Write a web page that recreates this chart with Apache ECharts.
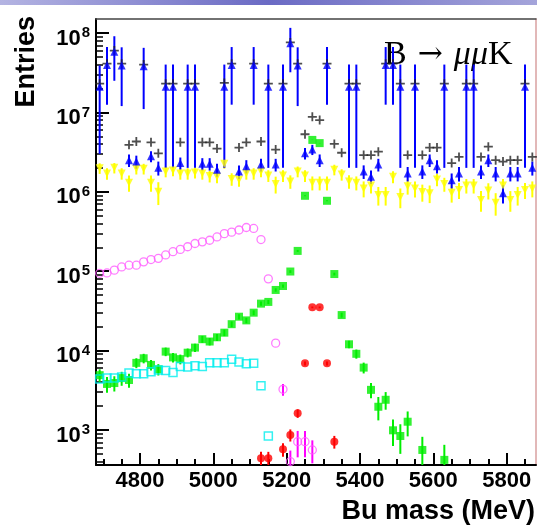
<!DOCTYPE html>
<html><head><meta charset="utf-8">
<script src="https://cdn.jsdelivr.net/npm/echarts@6/dist/echarts.min.js"></script>
<style>html,body{margin:0;padding:0;background:#fff}#c{width:537px;height:529px}</style>
</head><body><div id="c"></div>
<script>
// ---- data (bin centres, MeV) ----
const binCenters = [4690,4710,4730,4750,4770,4790,4810,4830,4850,4870,4890,4910,4930,4950,4970,4990,5010,5030,5050,5070,5090,5110,5130,5150,5170,5190,5210,5230,5250,5270,5290,5310,5330,5350,5370,5390,5410,5430,5450,5470,5490,5510,5530,5550,5570,5590,5610,5630,5650,5670,5690,5710,5730,5750,5770,5790,5810,5830,5850,5870];
const xTickLabels = [4800,5000,5200,5400,5600,5800];
const yTickLabels = [1e3,1e4,1e5,1e6,1e7,1e8];

const blueValues = [2.1e7,3.95e7,5.8e7,3.9e7,2.5e6,2.4e6,3.8e7,2.8e6,2.0e6,2.1e7, 2.1e7,2.3e6,2.1e7,2.1e7,2.25e6,2.25e6,1.9e6,2.1e7,3.95e7,1.8e6, 2.1e6,3.95e7,2.2e6,2.1e7,2.2e6,2.1e7,7.4e7,3.9e7,3.05e6,3.4e6, 2.5e6,3.95e7,null,null,2.1e7,2.1e7,1.8e6,1.55e6,2.2e6,3.95e7, 3.95e7,2.1e7,1.7e6,2.1e7,1.8e6,2.5e6,2.1e6,2.1e7,1.4e6,1.7e6, 2.1e7,2.1e7,1.8e6,2.5e6,1.7e6,9.6e5,1.7e6,1.7e6,2.1e7,2.0e6];
const blueErrors = [1.8e7,2.7e7,3.3e7,2.7e7,4.5e5,4.5e5,2.7e7,4.5e5,4e5,1.9e7, 1.9e7,4e5,1.9e7,1.9e7,4e5,4e5,3.5e5,1.9e7,2.7e7,3.5e5, 4e5,2.7e7,4e5,1.9e7,4e5,1.9e7,4.2e7,2.7e7,5e5,5e5, 4.5e5,2.7e7,null,null,1.9e7,1.9e7,3.5e5,3e5,4e5,2.7e7, 2.7e7,1.9e7,3.5e5,1.9e7,3.5e5,4.5e5,4e5,1.9e7,3e5,3.5e5, 1.9e7,1.9e7,3.5e5,4.5e5,3.5e5,2.5e5,3.5e5,3.5e5,1.9e7,4e5];

const blackValues = [2.3e7,4.1e7,6.0e7,4.1e7,3.9e6,4.3e6,4.0e7,4.2e6,3.05e6,2.3e7, 2.3e7,4.2e6,2.3e7,2.3e7,4.2e6,4.2e6,3.5e6,2.35e7,4.1e7,3.6e6, 4.2e6,4.1e7,4.3e6,2.3e7,3.4e6,2.3e7,7.6e7,4.1e7,5.3e6,8.8e6, 8.0e6,4.1e7,4.0e6,3.1e6,2.3e7,2.3e7,2.9e6,2.9e6,3.2e6,4.1e7, 4.1e7,2.3e7,2.9e6,2.3e7,2.9e6,3.6e6,3.6e6,2.3e7,2.3e6,2.75e6, 2.3e7,2.3e7,2.75e6,3.7e6,2.5e6,2.4e6,2.5e6,2.5e6,2.3e7,2.75e6];

const yellowValues = [1.98e6,1.7e6,2.0e6,1.7e6,1.3e6,1.95e6,1.95e6,1.3e6,1.0e6,1.8e6, 1.85e6,1.7e6,1.7e6,1.75e6,1.7e6,1.58e6,1.55e6,2.25e6,1.45e6,1.42e6, 1.7e6,1.7e6,1.8e6,1.6e6,1.25e6,1.6e6,1.35e6,1.8e6,1.6e6,1.3e6, 1.3e6,1.3e6,1.9e6,1.65e6,1.35e6,1.3e6,1.1e6,1.2e6,9.1e5,9.1e5, 1.55e6,8.6e5,1.17e6,1.1e6,9.9e5,9.6e5,1.43e6,1.25e6,9.7e5,1.05e6, 1.2e6,1.2e6,7.9e5,1.04e6,7.3e5,1.2e6,7.9e5,9.1e5,1.05e6,1.1e6];
const yellowErrors = [3.0e5,2.8e5,3.0e5,2.8e5,3.0e5,3.0e5,3.0e5,3.0e5,3.2e5,2.8e5, 2.8e5,2.8e5,2.8e5,2.8e5,2.8e5,2.7e5,2.7e5,3.0e5,2.6e5,2.6e5, 2.8e5,2.8e5,2.8e5,2.7e5,3.0e5,2.7e5,2.6e5,2.8e5,2.7e5,2.6e5, 2.6e5,2.6e5,2.9e5,2.7e5,2.6e5,2.6e5,2.5e5,2.5e5,2.4e5,2.4e5, 2.7e5,2.4e5,2.5e5,2.5e5,2.4e5,2.4e5,2.6e5,2.5e5,2.4e5,2.4e5, 2.5e5,2.5e5,2.3e5,2.4e5,2.3e5,2.5e5,2.3e5,2.4e5,2.4e5,2.5e5];

const greenValues = [4.9e3,3.8e3,3.9e3,4.5e3,4.26e3,7.0e3,8.0e3,6.6e3,5.8e3,9.7e3, 8.2e3,7.8e3,9.4e3,1.09e4,1.39e4,1.3e4,1.47e4,1.68e4,2.15e4,2.67e4, 2.4e4,3.0e4,3.9e4,4.1e4,5.8e4,6.5e4,9.9e4,1.8e5,8.9e5,4.5e6, 4.1e6,7.7e5,9.2e4,2.8e4,1.2e4,9.1e3,6.1e3,3.2e3,1.96e3,2.4e3, 990,840,1270,null,560,null,null,420,null,null, null,null,null,null,null,null,null,null,null,null];
const greenErrors = [900,850,850,900,850,1000,1100,1000,950,1200, 1100,1100,1200,1300,1400,1400,1500,1600,1800,2000, 1900,2100,2400,2500,2900,3100,3900,5200,1.2e4,2.6e4, 2.5e4,1.1e4,3700,2000,1300,1200,950,700,640,600, 360,340,440,null,260,null,null,230,null,null, null,null,null,null,null,null,null,null,null,null];

const cyanValues = [4.4e3,4.5e3,4.5e3,4.65e3,5.2e3,5.1e3,5.1e3,5.4e3,5.7e3,5.6e3, 5.3e3,6.3e3,6.2e3,6.45e3,6.3e3,7.0e3,7.0e3,7.0e3,7.8e3,7.2e3, 6.8e3,6.9e3,3.6e3,840];

const magentaValues = [9.4e4,9.5e4,1.03e5,1.13e5,1.19e5,1.19e5,1.31e5,1.4e5,1.45e5,1.6e5, 1.76e5,1.88e5,2.03e5,2.23e5,2.34e5,2.45e5,2.7e5,2.97e5,3.1e5,3.3e5, 3.55e5,3.45e5,2.5e5,8.0e4,1.24e4,3250,400,712,712,560];
const magentaErrors = [null,null,null,null,null,null,null,null,null,null, null,null,null,null,null,null,null,null,null,null, null,null,null,null,null,550,150,260,260,180];

const redValues = [null,null,null,null,null,null,null,null,null,null, null,null,null,null,null,null,null,null,null,null, null,null,440,440,null,571,865,1620,6900,3.5e4, 3.5e4,6900,712];
const redErrors = [null,null,null,null,null,null,null,null,null,null, null,null,null,null,null,null,null,null,null,null, null,null,90,90,null,110,150,200,400,900, 900,400,130];

// ---- helpers ----
const FONT = "'Liberation Sans', Arial, Helvetica, sans-serif";
function pts(vals) {
  const out = [];
  vals.forEach((v, i) => { if (v != null) out.push([binCenters[i], v]); });
  return out;
}
function errPts(vals, errs) {
  const out = [];
  vals.forEach((v, i) => { if (v != null && errs[i] != null) out.push([binCenters[i], v, errs[i]]); });
  return out;
}
function errSeries(vals, errs, color, width) {
  return {
    type: 'custom', data: errPts(vals, errs), clip: true, silent: true,
    renderItem: function (params, api) {
      const x = api.value(0), v = api.value(1), e = api.value(2);
      const lo = Math.max(v - e, 1);
      const p1 = api.coord([x, v + e]);
      const p2 = api.coord([x, lo]);
      return { type: 'line', shape: { x1: p1[0], y1: p1[1], x2: p2[0], y2: p2[1] },
               style: { stroke: color, lineWidth: width } };
    }
  };
}
function scat(vals, symbol, size, itemStyle, extra) {
  return Object.assign({ type: 'scatter', data: pts(vals), symbol: symbol, symbolSize: size,
    itemStyle: itemStyle, clip: true, silent: true }, extra || {});
}

const Y_MIN = 362, Y_MAX = 1.5e8;
const yMinor = [];
for (let e = 2; e <= 8; e++) for (let m = 2; m <= 9; m++) {
  const v = m * Math.pow(10, e);
  if (v > Y_MIN && v < Y_MAX) yMinor.push(v);
}
const xMinor = [];
for (let v = 4700; v <= 5850; v += 50) xMinor.push(v);

const chart = echarts.init(document.getElementById('c'), null, { renderer: 'canvas' });
const option = {
  animation: false,
  backgroundColor: '#ffffff',
  grid: { left: 96, right: 1, top: 19, bottom: 64, show: false, outerBoundsMode: 'none', containLabel: false },
  xAxis: [
    { type: 'value', min: 4680, max: 5880, position: 'bottom',
      axisLine: { show: true, lineStyle: { color: '#000', width: 2 } },
      axisTick: { show: true, inside: true, length: 12, lineStyle: { color: '#000', width: 2 }, customValues: xTickLabels },
      axisLabel: { show: true, customValues: xTickLabels, margin: 5, color: '#000',
        formatter: function (v) { return String(Math.round(v)); },
        fontFamily: FONT, fontWeight: 'bold', fontSize: 22 },
      splitLine: { show: false } },
    { type: 'value', min: 4680, max: 5880, position: 'bottom',
      axisLine: { show: false },
      axisTick: { show: true, inside: true, length: 6, lineStyle: { color: '#000', width: 2 }, customValues: xMinor },
      axisLabel: { show: false }, splitLine: { show: false } },
    { type: 'value', min: 4680, max: 5880, position: 'top',
      axisLine: { show: true, lineStyle: { color: '#444', width: 1.5 } },
      axisTick: { show: false }, axisLabel: { show: false }, splitLine: { show: false } }
  ],
  yAxis: [
    { type: 'log', logBase: 10, min: Y_MIN, max: Y_MAX, position: 'left',
      axisLine: { show: true, lineStyle: { color: '#000', width: 2 } },
      axisTick: { show: true, inside: true, length: 13, lineStyle: { color: '#000', width: 2 }, customValues: yTickLabels },
      axisLabel: { show: true, customValues: yTickLabels, margin: 6, color: '#000',
        padding: [9, 0, 0, 0],
        formatter: function (v) { const e = Math.round(Math.log10(v)); return '{b|10}{s|' + e + '}'; },
        rich: {
          b: { fontFamily: FONT, fontWeight: 'bold', fontSize: 22, color: '#000', lineHeight: 24, verticalAlign: 'bottom' },
          s: { fontFamily: FONT, fontWeight: 'bold', fontSize: 15, color: '#000', lineHeight: 24, verticalAlign: 'top', padding: [0, 0, 12, 1] }
        } },
      splitLine: { show: false } },
    { type: 'log', logBase: 10, min: Y_MIN, max: Y_MAX, position: 'left',
      axisLine: { show: false },
      axisTick: { show: true, inside: true, length: 7, lineStyle: { color: '#000', width: 1.5 }, customValues: yMinor },
      axisLabel: { show: false }, splitLine: { show: false } },
    { type: 'log', logBase: 10, min: Y_MIN, max: Y_MAX, position: 'right',
      axisLine: { show: true, lineStyle: { color: '#d9a0a0', width: 1.5 } },
      axisTick: { show: false }, axisLabel: { show: false }, splitLine: { show: false } }
  ],
  graphic: [
    { type: 'rect', shape: { x: 0, y: 0, width: 537, height: 5 }, silent: true,
      style: { fill: new echarts.graphic.LinearGradient(0, 0, 1, 0, [
        { offset: 0, color: '#b4b4e2' }, { offset: 0.5, color: '#6a6ac4' }, { offset: 1, color: '#a4a4da' }]) } },
    { type: 'text', x: 27, y: 16, rotation: Math.PI / 2, silent: true,
      style: { text: 'Entries', fontFamily: FONT, fontWeight: 'bold', fontSize: 27, fill: '#000',
        align: 'right', verticalAlign: 'middle' } },
    { type: 'text', x: 535, y: 512, silent: true,
      style: { text: 'Bu mass (MeV)', fontFamily: FONT, fontWeight: 'bold', fontSize: 27, fill: '#000',
        align: 'right', verticalAlign: 'middle' } },
    { type: 'text', x: 384, y: 55, silent: true,
      style: { text: '{r|B}{a|→}{i|μμ}{r|K}', align: 'left', verticalAlign: 'middle',
        rich: {
          r: { fontFamily: "'Liberation Serif', 'DejaVu Serif', serif", fontSize: 34, color: '#333' },
          a: { fontFamily: "'DejaVu Serif', 'Liberation Serif', serif", fontSize: 30, color: '#333', padding: [0, 11, 0, 11] },
          i: { fontFamily: "'Liberation Serif', 'DejaVu Serif', serif", fontStyle: 'italic', fontSize: 34, color: '#333' }
        } } }
  ],
  series: [
    errSeries(yellowValues, yellowErrors, '#ffff00', 2),
    scat(yellowValues, 'triangle', 8, { color: '#ffff00' }, { symbolRotate: 180 }),
    scat(blackValues, 'path://M0,3.2H8V4.8H0Z M3.2,0H4.8V8H3.2Z', 9, { color: '#222' }),
    errSeries(blueValues, blueErrors, '#0000ff', 2),
    scat(blueValues, 'triangle', 8, { color: '#0000ff' }),
    errSeries(greenValues, greenErrors, '#00ee00', 2),
    scat(greenValues, 'rect', 8, { color: '#00ee00' }),
    scat(cyanValues, 'rect', 8, { color: 'rgba(255,255,255,0)', borderColor: '#00eeee', borderWidth: 1.5 }),
    errSeries(magentaValues, magentaErrors, '#ff00ff', 2),
    scat(magentaValues, 'circle', 8, { color: 'rgba(255,255,255,0)', borderColor: '#ff5cff', borderWidth: 1.3 }),
    errSeries(redValues, redErrors, '#ff0000', 2),
    scat(redValues, 'circle', 8, { color: '#ff0000' })
  ]
};
chart.setOption(option);
</script></body></html>
